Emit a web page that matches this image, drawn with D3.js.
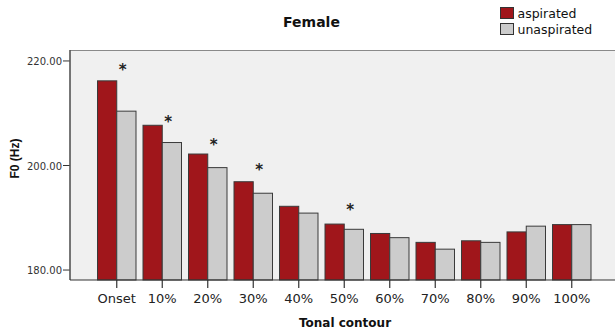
<!DOCTYPE html>
<html>
<head>
<meta charset="utf-8">
<script src="https://cdn.jsdelivr.net/npm/d3@7"></script>
<style>
  html, body { margin: 0; padding: 0; background: #fff; }
  svg { display: block; }
</style>
</head>
<body>
<svg id="chart" width="615" height="334"></svg>
<script>
// Mean F0 along the tonal contour, female speakers
const categories = ["Onset", "10%", "20%", "30%", "40%", "50%", "60%", "70%", "80%", "90%", "100%"];
const seriesNames = ["aspirated", "unaspirated"];
const aspirated   = [216.1, 207.6, 202.1, 196.8, 192.1, 188.7, 186.9, 185.2, 185.5, 187.2, 188.6];
const unaspirated = [210.3, 204.3, 199.5, 194.6, 190.8, 187.7, 186.1, 183.9, 185.2, 188.3, 188.6];
// Significance markers: category and the F0 level at which the asterisk sits
const sigCategories = ["Onset", "10%", "20%", "30%", "50%"];
const sigLevels     = [218.9, 208.9, 204.5, 199.7, 192.0];
const yTicks = [180, 200, 220];

const colors = { aspirated: "#a0161b", unaspirated: "#cccccc" };

const svg = d3.select("#chart");
const plot = { left: 70, right: 615, top: 50, bottom: 280 };

const y = d3.scaleLinear().domain([178, 222]).range([plot.bottom, plot.top]);
const x = d3.scaleBand().domain(categories).range([94, 594.5])
  .paddingInner(0.154).paddingOuter(0.077);
const xs = d3.scaleBand().domain(seriesNames).range([0, x.bandwidth()]);

// plot background
svg.append("rect")
  .attr("x", plot.left).attr("y", plot.top)
  .attr("width", plot.right - plot.left).attr("height", plot.bottom - plot.top)
  .attr("fill", "#f0f0f0");
svg.append("line")
  .attr("x1", plot.left).attr("x2", plot.right)
  .attr("y1", plot.top + 0.5).attr("y2", plot.top + 0.5)
  .attr("stroke", "#8a8a8a").attr("stroke-width", 1.2);

// bars
const rows = categories.map((c, i) => ({ cat: c, aspirated: aspirated[i], unaspirated: unaspirated[i] }));
const groups = svg.append("g").selectAll("g").data(rows).join("g")
  .attr("transform", d => `translate(${x(d.cat)},0)`);
groups.selectAll("rect")
  .data(d => seriesNames.map(s => ({ key: s, value: d[s] })))
  .join("rect")
  .attr("x", d => xs(d.key))
  .attr("y", d => y(d.value))
  .attr("width", xs.bandwidth())
  .attr("height", d => plot.bottom - y(d.value))
  .attr("fill", d => colors[d.key])
  .attr("stroke", "#3a3a3a")
  .attr("stroke-width", 1);

// asterisks for significant differences
svg.append("g").selectAll("text")
  .data(sigCategories.map((c, i) => ({ cat: c, level: sigLevels[i] })))
  .join("text")
  .attr("x", d => x(d.cat) + x.bandwidth() / 2 + 6)
  .attr("y", d => y(d.level) + 8.5)
  .attr("text-anchor", "middle")
  .attr("font-family", "DejaVu Sans")
  .attr("font-weight", "bold")
  .attr("font-size", 15)
  .attr("fill", "#222")
  .text("*");

// left and bottom axes
const yAxis = d3.axisLeft(y).tickValues(yTicks).tickFormat(d3.format(".2f"))
  .tickSize(7).tickSizeOuter(0);
const gy = svg.append("g").attr("transform", `translate(${plot.left},0)`).call(yAxis);
gy.select(".domain").remove();
gy.selectAll(".tick line").attr("stroke", "#333").attr("stroke-width", 1);
gy.selectAll(".tick text")
  .attr("font-family", "DejaVu Sans").attr("font-size", 10)
  .attr("fill", "#333").attr("x", -8).attr("dy", "0.4em");
svg.append("line")
  .attr("x1", plot.left).attr("x2", plot.left)
  .attr("y1", plot.top).attr("y2", plot.bottom)
  .attr("stroke", "#555").attr("stroke-width", 1.6);

const xAxis = d3.axisBottom(x).tickSize(8).tickSizeOuter(0);
const gx = svg.append("g").attr("transform", `translate(0,${plot.bottom})`).call(xAxis);
gx.select(".domain").remove();
gx.selectAll(".tick line").attr("stroke", "#333").attr("stroke-width", 1.2);
gx.selectAll(".tick text")
  .attr("font-family", "DejaVu Sans").attr("font-size", 13)
  .attr("fill", "#222").attr("y", 14).attr("dy", "0.71em");
svg.append("line")
  .attr("x1", plot.left).attr("x2", plot.right)
  .attr("y1", plot.bottom).attr("y2", plot.bottom)
  .attr("stroke", "#333").attr("stroke-width", 1.2);

// titles
svg.append("text")
  .attr("x", 311.5).attr("y", 27)
  .attr("text-anchor", "middle")
  .attr("font-family", "DejaVu Sans").attr("font-weight", "bold").attr("font-size", 14)
  .attr("fill", "#111")
  .text("Female");
svg.append("text")
  .attr("x", 345).attr("y", 327)
  .attr("text-anchor", "middle")
  .attr("font-family", "DejaVu Sans").attr("font-weight", "bold").attr("font-size", 12)
  .attr("fill", "#111")
  .text("Tonal contour");
svg.append("text")
  .attr("transform", "translate(19,158.5) rotate(-90)")
  .attr("text-anchor", "middle")
  .attr("font-family", "Liberation Sans").attr("font-weight", "bold").attr("font-size", 12)
  .attr("fill", "#111")
  .text("F0 (Hz)");

// legend
const legend = svg.append("g").selectAll("g").data(seriesNames).join("g")
  .attr("transform", (d, i) => `translate(500,${7 + i * 16})`);
legend.append("rect")
  .attr("x", 0.5).attr("y", 0.5).attr("width", 13).attr("height", 11)
  .attr("fill", d => colors[d]).attr("stroke", "#333").attr("stroke-width", 1);
legend.append("text")
  .attr("x", 17.5).attr("y", 11)
  .attr("font-family", "DejaVu Sans").attr("font-size", 12.5)
  .attr("fill", "#111")
  .text(d => d);
</script>
</body>
</html>
